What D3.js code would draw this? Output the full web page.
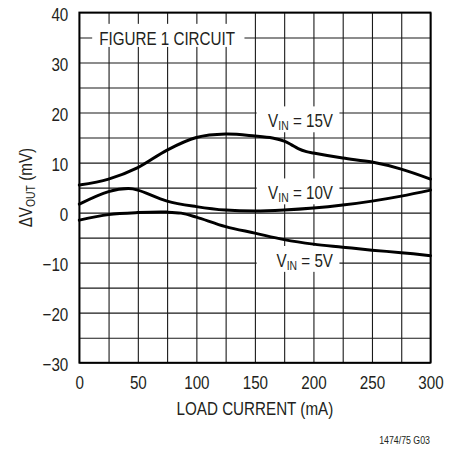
<!DOCTYPE html>
<html><head><meta charset="utf-8">
<script src="https://cdn.jsdelivr.net/npm/d3@7"></script>
<style>
html,body{margin:0;padding:0;background:#fff;}
svg{display:block;}
text{font-family:"Liberation Sans",Arial,sans-serif;fill:#231f20;}
</style></head><body>
<svg id="c" width="461" height="449"></svg>
<script>
// ---- data ----
const load15 = [0,25,50,75,100,125,150,165,175,181,187,194,200,225,250,275,300];
const dv15   = [5.5,6.7,9.0,12.5,15.0,15.7,15.3,14.9,14.3,13.6,12.8,12.2,11.9,10.9,10.1,8.7,6.7];
const load10 = [0,25,42,50,75,100,125,150,175,200,225,250,275,300];
const dv10   = [1.7,4.2,4.8,4.5,2.3,1.2,0.5,0.3,0.5,0.9,1.5,2.3,3.3,4.5];
const load5  = [0,25,50,75,87,100,125,150,175,200,225,250,275,300];
const dv5    = [-1.5,-0.4,0.0,0.1,-0.1,-0.9,-2.8,-4.1,-5.4,-6.3,-6.9,-7.5,-8.0,-8.6];
const seriesNames = ["15V","10V","5V"];
const labelLoad = [216.7,216.7,216.7];
const labelDv   = [18.5,4.1,-9.4];
const xTickLabels = [0,50,100,150,200,250,300];
const yTickLabels = [40,30,20,10,0,-10,-20,-30];
const xLabel = "LOAD CURRENT (mA)";
const titleText = "FIGURE 1 CIRCUIT";
const footnote = "1474/75 G03";

// ---- layout ----
const L = 79.3, R = 430.5, T = 12.5, B = 362.7;
const svg = d3.select("#c");
const x = d3.scaleLinear().domain([0,300]).range([L,R]);
const y = d3.scaleLinear().domain([-30,40]).range([B,T]);
const FS = 19, SX = 0.8;

function ntext(parent, px, py, anchor, size, rot){
  const g = parent.append("g").attr("transform",`translate(${px},${py})${rot?` rotate(${rot})`:""} scale(${SX},1)`);
  return g.append("text").attr("text-anchor",anchor).attr("font-size",size);
}
function boxOf(node){ const r = node.getBoundingClientRect(); const s = document.getElementById("c").getBoundingClientRect(); return {x:r.left-s.left,y:r.top-s.top,w:r.width,h:r.height}; }

// grid
const gGrid = svg.append("g");
gGrid.append("g").attr("transform",`translate(0,${B})`)
  .call(d3.axisBottom(x).tickValues(d3.range(0,301,25)).tickSize(-(B-T)).tickFormat(""))
  .call(g=>{g.select(".domain").remove();g.selectAll("line").attr("stroke","#1a1a1a").attr("stroke-width",1.1);});
gGrid.append("g").attr("transform",`translate(${L},0)`)
  .call(d3.axisLeft(y).tickValues(d3.range(-30,41,5)).tickSize(-(R-L)).tickFormat(""))
  .call(g=>{g.select(".domain").remove();g.selectAll("line").attr("stroke","#1a1a1a").attr("stroke-width",1.1);});

// label boxes layer (white, hides grid)
const gBox = svg.append("g");

// border
svg.append("rect").attr("x",L).attr("y",T).attr("width",R-L).attr("height",B-T)
  .attr("fill","none").attr("stroke","#000").attr("stroke-width",1.8);

// tick labels
svg.append("g").attr("transform",`translate(${L},0)`)
  .call(d3.axisLeft(y).tickValues(yTickLabels).tickSize(0).tickPadding(11))
  .call(g=>{g.select(".domain").remove();
    g.selectAll("text").attr("font-size",FS).attr("font-family",null).attr("dy","0.4em")
     .attr("x",-11/SX).attr("transform",`scale(${SX},1)`);});
svg.append("g").attr("transform",`translate(0,${B})`)
  .call(d3.axisBottom(x).tickValues(xTickLabels).tickSize(0).tickPadding(13))
  .call(g=>{g.select(".domain").remove();
    g.selectAll("text").attr("font-size",FS).attr("font-family",null).attr("transform",`scale(${SX},1)`);});

// curves
const line = d3.line().x(d=>x(d[0])).y(d=>y(d[1])).curve(d3.curveCatmullRom.alpha(0.5));
const series = [d3.zip(load15,dv15), d3.zip(load10,dv10), d3.zip(load5,dv5)];
svg.append("g").selectAll("path").data(series).join("path")
  .attr("d",line).attr("fill","none").attr("stroke","#000").attr("stroke-width",3)
  .attr("stroke-linecap","round");

// title
const title = ntext(svg, x(75), y(35)+7, "middle", FS).text(titleText);
{
  const b = boxOf(title.node());
  gBox.append("rect").attr("x",b.x-7).attr("y",b.y-3).attr("width",b.w+16).attr("height",b.h+1).attr("fill","#fff");
}

// VIN labels
seriesNames.forEach((nm,i)=>{
  const t = ntext(svg, x(labelLoad[i]), y(labelDv[i])+7, "end", FS);
  t.append("tspan").text("V");
  t.append("tspan").attr("font-size",13).attr("dy",3).text("IN");
  t.append("tspan").attr("dy",-3).text(" = "+nm);
  const b = boxOf(t.node());
  const left = x(151.5);
  gBox.append("rect").attr("x",left).attr("y",b.y-3).attr("width",b.x+b.w+6-left).attr("height",b.h+3).attr("fill","#fff");
});

// y axis title
const yl = ntext(svg, 32, (T+B)/2, "middle", FS, -90);
yl.append("tspan").text("\u0394V");
yl.append("tspan").attr("font-size",13).attr("dy",3).text("OUT");
yl.append("tspan").attr("dy",-3).text(" (mV)");

// x axis title
ntext(svg, (L+R)/2, 415, "middle", FS).text(xLabel);

// footnote
ntext(svg, 430, 444, "end", 11).text(footnote);
</script>
</body></html>
